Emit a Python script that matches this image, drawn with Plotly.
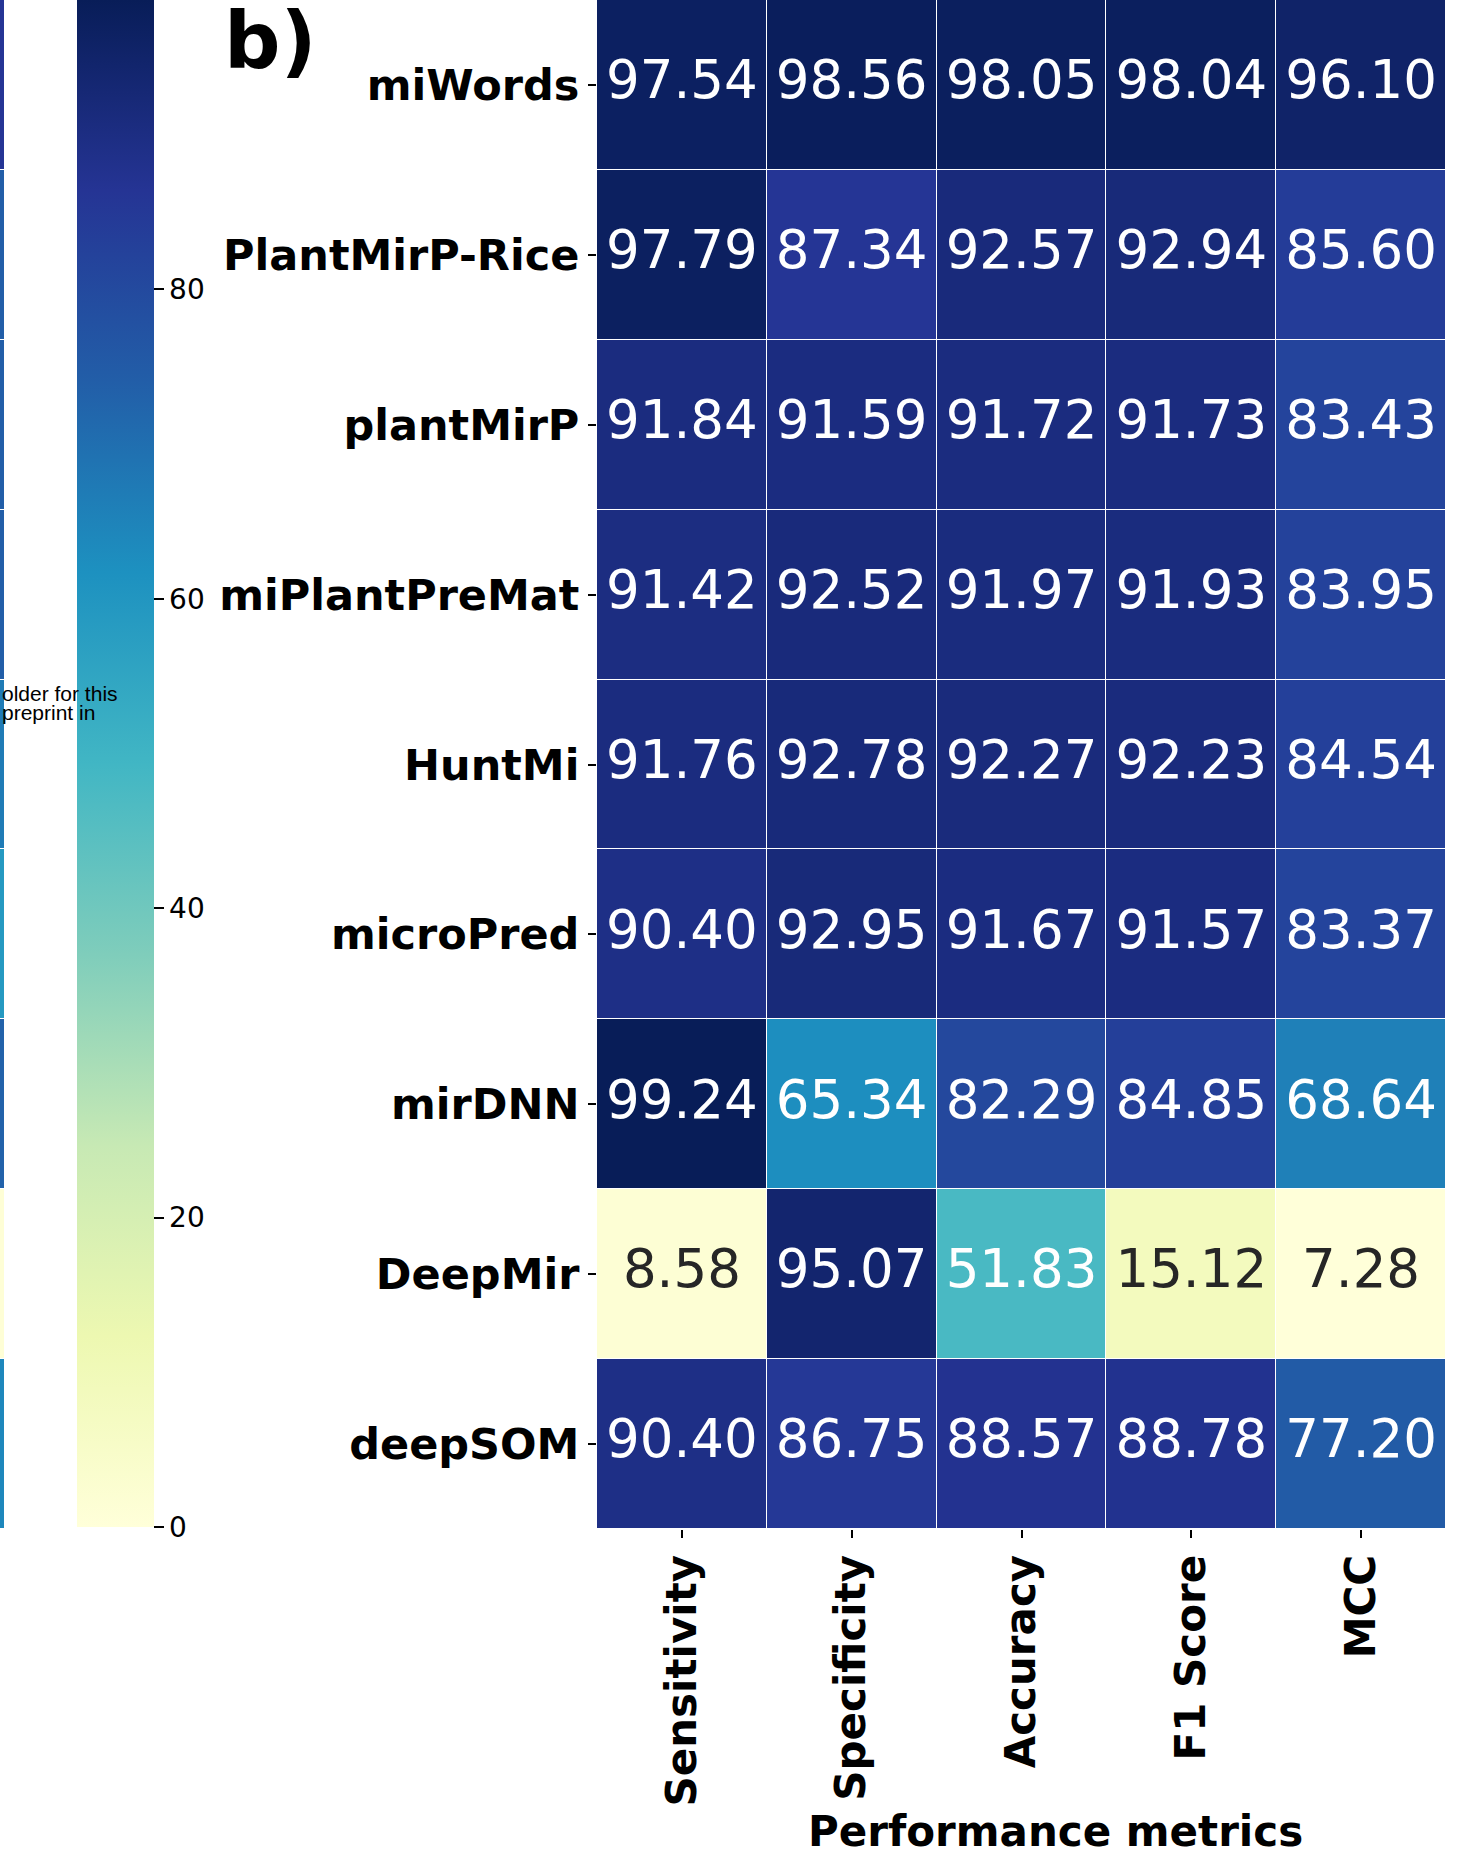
import plotly.graph_objects as go
import plotly.colors as pc

# ---------------- data ----------------
metrics = ["Sensitivity", "Specificity", "Accuracy", "F1 Score", "MCC"]
models = ["miWords", "PlantMirP-Rice", "plantMirP", "miPlantPreMat", "HuntMi",
          "microPred", "mirDNN", "DeepMir", "deepSOM"]

sensitivity = [97.54, 97.79, 91.84, 91.42, 91.76, 90.40, 99.24, 8.58, 90.40]
specificity = [98.56, 87.34, 91.59, 92.52, 92.78, 92.95, 65.34, 95.07, 86.75]
accuracy    = [98.05, 92.57, 91.72, 91.97, 92.27, 91.67, 82.29, 51.83, 88.57]
f1_score    = [98.04, 92.94, 91.73, 91.93, 92.23, 91.57, 84.85, 15.12, 88.78]
mcc         = [96.10, 85.60, 83.43, 83.95, 84.54, 83.37, 68.64, 7.28, 77.20]

# right-most column of the neighbouring panel a) (only a sliver is visible)
panel_a_last_col = [86, 74, 74, 74, 67, 59, 73, 1, 64]
panel_a_range = [0, 98.7]
colorbar_ticks = [0, 20, 40, 60, 80]

columns = [sensitivity, specificity, accuracy, f1_score, mcc]
z = [[col[i] for col in columns] for i in range(len(models))]

# ---------------- styling ----------------
W, H = 1484, 1864
scale = pc.sequential.YlGnBu
colorscale = [[i / (len(scale) - 1), c] for i, c in enumerate(scale)]

all_vals = [v for row in z for v in row]
zmin, zmax = min(all_vals), max(all_vals)


def color_at(t):
    rgbs = [pc.unlabel_rgb(c) for c in scale]
    t = max(0.0, min(1.0, t))
    pos = t * (len(rgbs) - 1)
    i = min(int(pos), len(rgbs) - 2)
    f = pos - i
    return [rgbs[i][k] + (rgbs[i + 1][k] - rgbs[i][k]) * f for k in range(3)]


def lum(rgb):
    def ch(c):
        c = c / 255.0
        return c / 12.92 if c <= 0.03928 else ((c + 0.055) / 1.055) ** 2.4
    r, g, b = (ch(c) for c in rgb)
    return 0.2126 * r + 0.7152 * g + 0.0722 * b


tx, ty, tt, tc = [], [], [], []
for i, m in enumerate(models):
    for j, met in enumerate(metrics):
        v = z[i][j]
        tx.append(met)
        ty.append(m)
        tt.append(f"{v:.2f}")
        L = lum(color_at((v - zmin) / (zmax - zmin)))
        tc.append("#262626" if L > 0.408 else "#ffffff")


def px(x):
    return x / W


def py(y):
    return 1 - y / H


x0, x1 = px(597), px(1446)
y_bottom = py(1529)

fig = go.Figure()

fig.add_trace(go.Heatmap(
    z=z, x=metrics, y=models, colorscale=colorscale, zmin=zmin, zmax=zmax,
    showscale=False, xgap=1, ygap=1, hoverinfo="skip",
    xaxis="x", yaxis="y",
))

fig.add_trace(go.Scatter(
    x=tx, y=ty, text=tt, mode="text",
    textfont=dict(family="DejaVu Sans", size=53, color=tc),
    textposition="middle center", showlegend=False, hoverinfo="skip",
    xaxis="x", yaxis="y",
))

# sliver of panel a) and its colourbar
fig.add_trace(go.Heatmap(
    z=[[v] for v in panel_a_last_col], x=["MCC"], y=models,
    colorscale=colorscale, zmin=panel_a_range[0], zmax=panel_a_range[1],
    ygap=1, hoverinfo="skip", xaxis="x2", yaxis="y2",
    showscale=True,
    colorbar=dict(
        x=px(77), xanchor="left", xref="paper",
        y=1, yanchor="top", yref="paper",
        len=1527, lenmode="pixels",
        thickness=77, thicknessmode="pixels",
        xpad=0, ypad=0, outlinewidth=0,
        ticks="outside", ticklen=10, tickwidth=1.5, tickcolor="#000",
        tickvals=colorbar_ticks,
        tickfont=dict(family="DejaVu Sans", size=28, color="#000"),
    ),
))

fig.update_layout(
    width=W, height=H,
    margin=dict(l=0, r=0, t=0, b=0, autoexpand=False),
    paper_bgcolor="white", plot_bgcolor="white",
    xaxis=dict(
        domain=[x0, x1], tickangle=-90, ticks="outside", ticklen=8,
        tickwidth=1.5, tickcolor="#000", showgrid=False, zeroline=False,
        showline=False,
        tickfont=dict(family="DejaVu Sans", size=42, color="#000", weight="bold"),
    ),
    yaxis=dict(
        domain=[y_bottom, 1], autorange="reversed", ticks="outside", ticklen=8,
        tickwidth=1.5, tickcolor="#000", showgrid=False, zeroline=False,
        showline=False,
        tickfont=dict(family="DejaVu Sans", size=43, color="#000", weight="bold"),
    ),
    xaxis2=dict(domain=[0, px(4)], visible=False, anchor="y2"),
    yaxis2=dict(domain=[y_bottom, 1], visible=False, autorange="reversed",
                anchor="x2"),
)

fig.add_annotation(
    text="Performance metrics", xref="paper", yref="paper",
    x=px(1055), y=py(1831), xanchor="center", yanchor="middle",
    showarrow=False,
    font=dict(family="DejaVu Sans", size=42, color="#000", weight="bold"),
)
fig.add_annotation(
    text="b)", xref="paper", yref="paper",
    x=px(222), y=py(89), xanchor="left", yanchor="bottom",
    showarrow=False,
    font=dict(family="DejaVu Sans", size=79, color="#000", weight="bold"),
)
for line, base in (("older for this", 702), ("preprint in", 721)):
    fig.add_annotation(
        text=line, xref="paper", yref="paper",
        x=0, y=py(base + 5), xanchor="left", yanchor="bottom",
        showarrow=False,
        font=dict(family="Liberation Sans", size=21, color="#000"),
    )

fig.write_html("out.html", config={"displayModeBar": False},
               post_script="document.body.style.margin='0px';")
